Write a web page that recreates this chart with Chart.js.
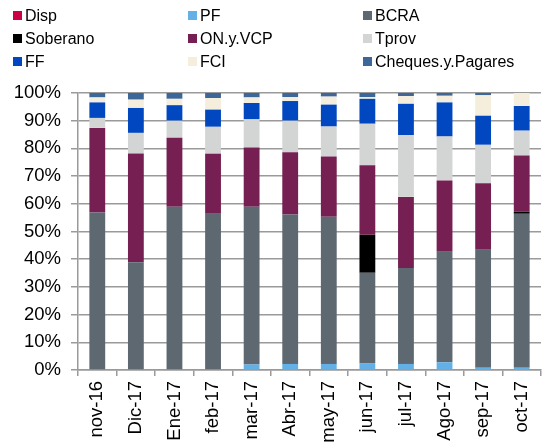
<!DOCTYPE html>
<html>
<head>
<meta charset="utf-8">
<script src="https://cdn.jsdelivr.net/npm/chart.js@4.4.0/dist/chart.umd.min.js"></script>
<style>
  body { margin: 0; background: #fff; }
  #wrap { position: relative; width: 555px; height: 447px; }
  #legend {
    position: absolute; left: 13px; top: 4px;
    display: grid; grid-template-columns: 175px 175px auto;
    grid-auto-rows: 23px;
    font-family: "Liberation Sans", Arial, sans-serif; font-size: 16px; color: #000;
  }
  #legend div { display: flex; align-items: center; white-space: nowrap; }
  #legend span.box { display: inline-block; width: 9px; height: 9px; margin-right: 3px; }
</style>
</head>
<body>
<div id="wrap">
  <canvas id="myChart" width="555" height="447"></canvas>
  <div id="legend"></div>
</div>
<script>
// months
const labels = ['nov-16', 'Dic-17', 'Ene-17', 'feb-17', 'mar-17', 'Abr-17', 'may-17', 'jun-17', 'jul-17', 'Ago-17', 'sep-17', 'oct-17'];

// share of each instrument (%)
const disp      = [0, 0, 0, 0, 0, 0, 0, 0, 0, 0, 0, 0];
const pf        = [0, 0, 0, 0, 2.0, 2.2, 2.2, 2.5, 2.2, 2.8, 0.8, 0.8];
const bcra      = [56.9, 38.9, 58.9, 56.4, 56.9, 53.9, 53.1, 32.6, 34.6, 39.9, 42.6, 55.6];
const soberano  = [0, 0, 0, 0, 0, 0, 0, 13.7, 0, 0, 0, 0.8];
const onVcp     = [30.5, 39.3, 24.9, 21.7, 21.4, 22.5, 21.8, 25.1, 25.7, 25.7, 24.0, 20.2];
const tprov     = [3.6, 7.4, 6.2, 9.7, 10.2, 11.4, 10.8, 15.0, 22.3, 15.9, 13.9, 9.0];
const ff        = [5.6, 9.0, 5.6, 6.2, 5.9, 7.1, 7.9, 9.0, 11.3, 12.3, 10.5, 8.9];
const fci       = [1.8, 3.0, 2.3, 4.2, 2.0, 1.4, 2.9, 0.6, 2.8, 2.4, 7.4, 4.7];
const cheques   = [1.6, 2.4, 2.1, 1.8, 1.6, 1.5, 1.3, 1.5, 1.1, 1.0, 0.8, 0];

const yTicks = [0, 10, 20, 30, 40, 50, 60, 70, 80, 90, 100];

const series = [
  { label: 'Disp', data: disp, color: '#cc0044' },
  { label: 'PF', data: pf, color: '#62b0e5' },
  { label: 'BCRA', data: bcra, color: '#5d6870' },
  { label: 'Soberano', data: soberano, color: '#000000' },
  { label: 'ON.y.VCP', data: onVcp, color: '#761f53' },
  { label: 'Tprov', data: tprov, color: '#d3d4d4' },
  { label: 'FF', data: ff, color: '#0047c0' },
  { label: 'FCI', data: fci, color: '#f5eedd' },
  { label: 'Cheques.y.Pagares', data: cheques, color: '#3d6699' }
];

const font = { family: '"Liberation Sans", Arial, sans-serif', size: 18.5 };

const ctx = document.getElementById('myChart').getContext('2d');
const myChart = new Chart(ctx, {
  type: 'bar',
  data: {
    labels: labels,
    datasets: series.map(s => ({
      label: s.label,
      data: s.data,
      backgroundColor: s.color,
      borderWidth: 0,
      barPercentage: 0.41,
      categoryPercentage: 1
    }))
  },
  options: {
    responsive: false,
    animation: false,
    layout: { padding: { top: 93, right: 14, left: 0, bottom: 0 } },
    plugins: { legend: { display: false }, tooltip: { enabled: false } },
    scales: {
      x: {
        stacked: true,
        offset: true,
        grid: { display: true, drawOnChartArea: false, drawTicks: true, tickLength: 6, color: '#9a9a9a', lineWidth: 1.5, offset: true },
        border: { display: true, color: '#9a9a9a', width: 1.5 },
        ticks: { font: font, color: '#000', minRotation: 90, maxRotation: 90, padding: 5, autoSkip: false },
        afterFit: (scale) => { scale.height = 77; }
      },
      y: {
        stacked: true,
        min: 0,
        max: 100,
        afterBuildTicks: (scale) => { scale.ticks = yTicks.map(v => ({ value: v })); },
        grid: { color: '#9a9a9a', lineWidth: 1.5, tickLength: 7 },
        border: { display: true, color: '#9a9a9a', width: 1.5 },
        ticks: { font: font, color: '#000', padding: 10, callback: (v) => v + '%' },
        afterFit: (scale) => { scale.width = 78; }
      }
    }
  }
});

// legend in three columns, same order as the stack
const legend = document.getElementById('legend');
series.forEach(s => {
  const item = document.createElement('div');
  item.innerHTML = '<span class="box" style="background:' + s.color + '"></span>' + s.label;
  legend.appendChild(item);
});
</script>
</body>
</html>
